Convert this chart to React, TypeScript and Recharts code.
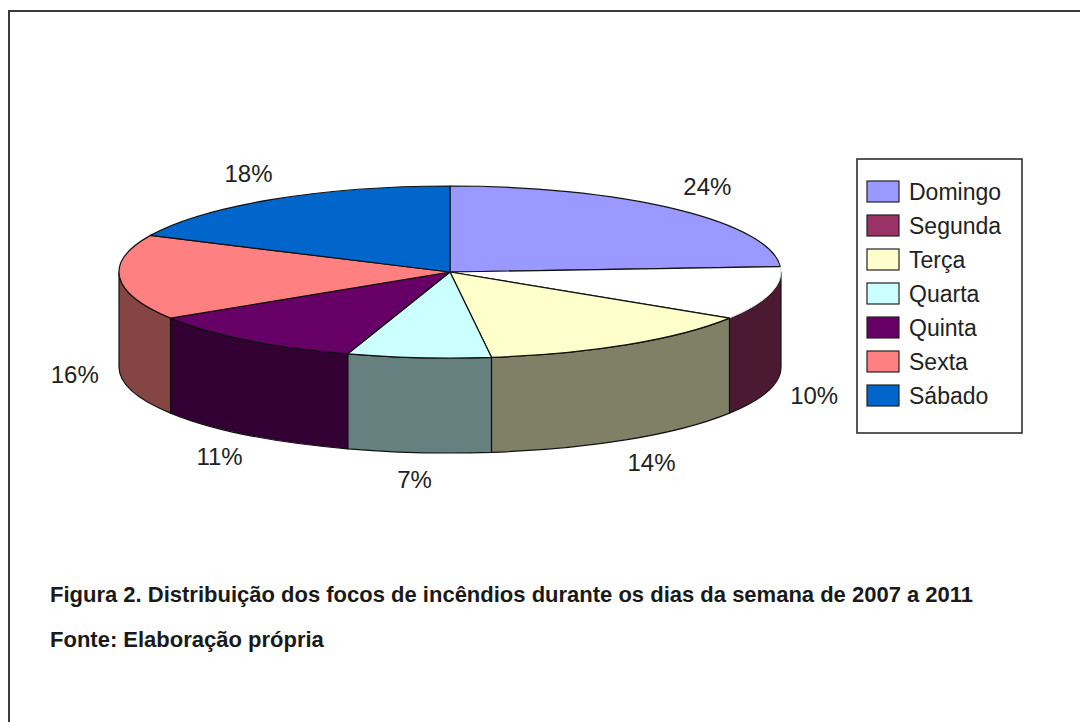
import React from 'react';
import { PieChart, Pie, Cell, Legend } from 'recharts';

const days = ['Domingo', 'Segunda', 'Terça', 'Quarta', 'Quinta', 'Sexta', 'Sábado'];
const shares = [24, 10, 14, 7, 11, 16, 18];
const topColors = ['#9999FF', '#FFFFFF', '#FFFFCC', '#CCFFFF', '#660066', '#FF8080', '#0066CC'];
const legendColors = ['#9999FF', '#993366', '#FFFFCC', '#CCFFFF', '#660066', '#FF8080', '#0066CC'];
const sideColors = ['#4C4C80', '#4C1933', '#808066', '#668080', '#330033', '#844543', '#003366'];
const captionLines = [
  'Figura 2. Distribuição dos focos de incêndios durante os dias da semana de 2007 a 2011',
  'Fonte: Elaboração própria',
];

const data = days.map((name, i) => ({ name, value: shares[i] }));

const CX = 450;
const CY = 272;
const RX = 331;
const K = 86 / 331; // vertical squash of the top face
const DEPTH = 95;
const RAD = Math.PI / 180;
const FONT = '"Liberation Sans", Arial, sans-serif';

const pt = (cx: number, cy: number, r: number, a: number): [number, number] => [
  cx + r * Math.cos(a * RAD),
  cy - r * K * Math.sin(a * RAD),
];

function TopFace(props: any) {
  const { cx, cy, outerRadius: r, startAngle: s, endAngle: e, fill } = props;
  const [x1, y1] = pt(cx, cy, r, s);
  const [x2, y2] = pt(cx, cy, r, e);
  const large = Math.abs(s - e) > 180 ? 1 : 0;
  const sweep = s > e ? 1 : 0;
  const d = `M${cx},${cy} L${x1},${y1} A${r},${r * K} 0 ${large} ${sweep} ${x2},${y2} Z`;
  if (fill === '#FFFFFF') {
    return (
      <g>
        <path d={d} fill={fill} stroke="none" />
        <path d={`M${x1},${y1} L${cx},${cy} L${x2},${y2}`} fill="none" stroke="#111" strokeWidth={1.2} />
        <path d={`M${x1},${y1} A${r},${r * K} 0 ${large} ${sweep} ${x2},${y2}`} fill="none" stroke="#ddd" strokeWidth={1} />
      </g>
    );
  }
  return <path d={d} fill={fill} stroke="#111" strokeWidth={1.2} strokeLinejoin="round" />;
}

function SideWall(props: any) {
  const { cx, cy, outerRadius: r, startAngle: s, endAngle: e, fill } = props;
  const hi = Math.min(Math.max(s, e), 0);
  const lo = Math.max(Math.min(s, e), -180);
  if (hi <= lo) return <g />;
  const [x1, y1] = pt(cx, cy, r, hi);
  const [x2, y2] = pt(cx, cy, r, lo);
  const large = hi - lo > 180 ? 1 : 0;
  const d = `M${x1},${y1} A${r},${r * K} 0 ${large} 1 ${x2},${y2} L${x2},${y2 + DEPTH} A${r},${r * K} 0 ${large} 0 ${x1},${y1 + DEPTH} Z`;
  return <path d={d} fill={fill} stroke="#111" strokeWidth={1.2} strokeLinejoin="round" />;
}

const renderLabel = (props: any) => {
  const { cx, cy, midAngle, outerRadius, value } = props;
  const sn = Math.sin(midAngle * RAD);
  const x = cx + (outerRadius + 45) * Math.cos(midAngle * RAD);
  const y = cy - (outerRadius * K + (sn > 0 ? 31 : 27)) * sn + (sn < 0 ? DEPTH : 0);
  return (
    <text x={x} y={y} textAnchor="middle" dominantBaseline="central" fill="#222" fontSize={24} fontFamily={FONT}>
      {`${value}%`}
    </text>
  );
};

const renderLegend = (props: any) => {
  const payload = (props.payload || []).filter((p: any) => days.indexOf(p.value) >= 0);
  const seen = new Set<string>();
  const items = payload
    .filter((p: any) => (seen.has(p.value) ? false : (seen.add(p.value), true)))
    .sort((a: any, b: any) => days.indexOf(a.value) - days.indexOf(b.value));
  return (
    <svg width={167} height={277} style={{ display: 'block' }}>
      <rect x={1} y={1} width={165} height={274} fill="#fff" stroke="#222" strokeWidth={1.5} />
      {items.map((p: any, i: number) => {
        const idx = days.indexOf(p.value);
        const top = 23 + 34 * i;
        return (
          <g key={p.value}>
            <rect x={11} y={top} width={32} height={21} fill={legendColors[idx]} stroke="#222" strokeWidth={1.2} />
            <text x={53} y={top + 19} fill="#222" fontSize={23} fontFamily={FONT}>
              {p.value}
            </text>
          </g>
        );
      })}
    </svg>
  );
};

export default function App() {
  return (
    <div style={{ position: 'absolute', left: 0, top: 0, width: 1080, height: 722, background: '#fff', overflow: 'hidden' }}>
      <PieChart width={1080} height={722} margin={{ top: 0, right: 0, bottom: 0, left: 0 }}>
        <Pie
          data={data}
          dataKey="value"
          nameKey="name"
          cx={CX}
          cy={CY}
          outerRadius={RX}
          startAngle={90}
          endAngle={-270}
          isAnimationActive={false}
          legendType="none"
          label={false}
          labelLine={false}
          shape={SideWall}
        >
          {data.map((d, i) => (
            <Cell key={`side-${d.name}`} fill={sideColors[i]} />
          ))}
        </Pie>
        <Pie
          data={data}
          dataKey="value"
          nameKey="name"
          cx={CX}
          cy={CY}
          outerRadius={RX}
          startAngle={90}
          endAngle={-270}
          isAnimationActive={false}
          legendType="rect"
          label={renderLabel}
          labelLine={false}
          shape={TopFace}
        >
          {data.map((d, i) => (
            <Cell key={`top-${d.name}`} fill={topColors[i]} />
          ))}
        </Pie>
        <Legend
          content={renderLegend}
          itemSorter={null as any}
          wrapperStyle={{ position: 'absolute', left: 856, top: 158, width: 167, height: 277 }}
        />
      </PieChart>
      <svg width={1080} height={722} style={{ position: 'absolute', left: 0, top: 0, pointerEvents: 'none' }}>
        <line x1={9} y1={11} x2={1080} y2={11} stroke="#3a3a3a" strokeWidth={2} />
        <line x1={9} y1={10} x2={9} y2={722} stroke="#3a3a3a" strokeWidth={2} />
        <text x={50} y={602} fontFamily={FONT} fontWeight="bold" fontSize={22} fill="#1a1a1a">
          {captionLines[0]}
        </text>
        <text x={50} y={647} fontFamily={FONT} fontWeight="bold" fontSize={22} fill="#1a1a1a">
          {captionLines[1]}
        </text>
      </svg>
    </div>
  );
}
